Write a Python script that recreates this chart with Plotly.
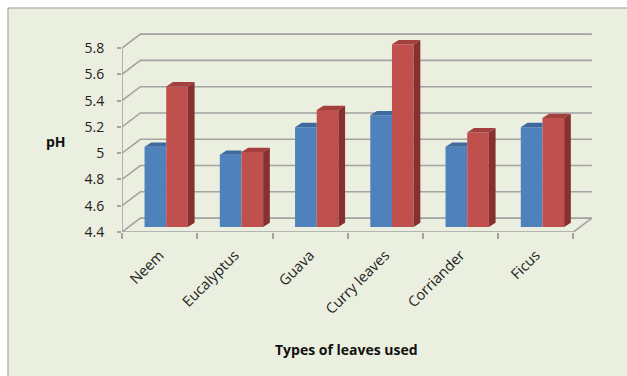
import plotly.graph_objects as go

# ---- data -------------------------------------------------------------
leaves = ["Neem", "Eucalyptus", "Guava", "Curry leaves", "Corriander", "Ficus"]
ph_series_1 = [5.01, 4.95, 5.16, 5.25, 5.01, 5.16]   # blue columns
ph_series_2 = [5.47, 4.97, 5.29, 5.79, 5.12, 5.23]   # red columns
ph_ticks = [4.4, 4.6, 4.8, 5.0, 5.2, 5.4, 5.6, 5.8]
ph_tick_text = ["4.4", "4.6", "4.8", "5", "5.2", "5.4", "5.6", "5.8"]

# ---- pseudo-3D geometry (axis units) ------------------------------------
Y_MIN = 4.4
X_RANGE = [-0.5, 5.746]
Y_RANGE = [4.4, 5.9145]
WALL_DX, WALL_DY = 0.2445, 0.1058      # depth of the back wall
PLANE_DX, PLANE_DY = 0.0877, 0.038     # depth at which the columns stand
BAR_DX, BAR_DY = 0.089, 0.0327         # column thickness in depth
BAR_W = 0.288

GRID = "#A3A3A3"
BLUE, BLUE_TOP = "#4F81BD", "#3F6A9E"
RED, RED_TOP, RED_SIDE = "#C0504D", "#A3403D", "#86312F"
BG = "#EBEFDF"
FONT = "Open Sans"

n = len(leaves)
base = Y_MIN + PLANE_DY

fig = go.Figure()

# front faces of the columns
x_blue = [i + PLANE_DX - BAR_W / 2 for i in range(n)]
x_red = [i + PLANE_DX + BAR_W / 2 for i in range(n)]
fig.add_trace(go.Bar(x=x_blue, y=[v - Y_MIN for v in ph_series_1], base=base,
                     width=BAR_W, marker=dict(color=BLUE, line=dict(width=0)),
                     name="Series 1", xaxis="x2", yaxis="y2"))
fig.add_trace(go.Bar(x=x_red, y=[v - Y_MIN for v in ph_series_2], base=base,
                     width=BAR_W, marker=dict(color=RED, line=dict(width=0)),
                     name="Series 2", xaxis="x2", yaxis="y2"))


def polys(point_lists):
    xs, ys = [], []
    for pts in point_lists:
        for px, py in pts:
            xs.append(px)
            ys.append(py)
        xs.append(pts[0][0])
        ys.append(pts[0][1])
        xs.append(None)
        ys.append(None)
    return xs, ys


# top faces of the blue columns (cut where the taller red column stands in front)
blue_tops = []
for xc, v, w in zip(x_blue, ph_series_1, ph_series_2):
    x0, x1 = xc - BAR_W / 2, xc + BAR_W / 2
    t = v + PLANE_DY
    if w >= v:
        blue_tops.append([(x0, t), (x1, t), (x1, t + BAR_DY), (x0 + BAR_DX, t + BAR_DY)])
    else:
        blue_tops.append([(x0, t), (x1, t), (x1 + BAR_DX, t + BAR_DY), (x0 + BAR_DX, t + BAR_DY)])
bx, by = polys(blue_tops)
fig.add_trace(go.Scatter(x=bx, y=by, mode="lines", fill="toself", fillcolor=BLUE_TOP,
                         line=dict(width=0, color=BLUE_TOP), hoverinfo="skip",
                         xaxis="x2", yaxis="y2"))

# top and side faces of the red columns
red_tops, red_sides = [], []
for xc, v in zip(x_red, ph_series_2):
    x0, x1 = xc - BAR_W / 2, xc + BAR_W / 2
    t = v + PLANE_DY
    red_tops.append([(x0, t), (x1, t), (x1 + BAR_DX, t + BAR_DY), (x0 + BAR_DX, t + BAR_DY)])
    red_sides.append([(x1, base), (x1 + BAR_DX, base + BAR_DY), (x1 + BAR_DX, t + BAR_DY), (x1, t)])
rx, ry = polys(red_tops)
fig.add_trace(go.Scatter(x=rx, y=ry, mode="lines", fill="toself", fillcolor=RED_TOP,
                         line=dict(width=0, color=RED_TOP), hoverinfo="skip",
                         xaxis="x2", yaxis="y2"))
sx, sy = polys(red_sides)
fig.add_trace(go.Scatter(x=sx, y=sy, mode="lines", fill="toself", fillcolor=RED_SIDE,
                         line=dict(width=0, color=RED_SIDE), hoverinfo="skip",
                         xaxis="x2", yaxis="y2"))

# walls, floor and gridlines, drawn underneath the columns
left, right = -0.5, n - 0.5
shapes = [dict(type="rect", xref="paper", yref="paper", x0=-0.2426, x1=1.12,
               y0=-0.82, y1=1.1256, fillcolor=BG, line=dict(color="#9A9A9A", width=1),
               layer="below")]
for v in ph_ticks:
    shapes.append(dict(type="path", xref="x", yref="y", layer="below",
                       path=f"M {left},{v} L {left + WALL_DX},{v + WALL_DY} "
                            f"L {right + WALL_DX},{v + WALL_DY}",
                       line=dict(color=GRID, width=1.6)))
shapes.append(dict(type="path", xref="x", yref="y", layer="below",
                   path=f"M {left},{Y_MIN} L {right},{Y_MIN} "
                        f"L {right + WALL_DX},{Y_MIN + WALL_DY}",
                   line=dict(color=GRID, width=1.6)))
shapes.append(dict(type="line", xref="x", yref="y", layer="below",
                   x0=left, x1=left, y0=Y_MIN, y1=ph_ticks[-1],
                   line=dict(color=GRID, width=1.6)))

tick_font = dict(family=FONT, size=14, color="#222222")
fig.update_layout(
    width=627, height=376,
    margin=dict(l=122, r=35, t=33, b=144),
    paper_bgcolor="white", plot_bgcolor="rgba(0,0,0,0)",
    showlegend=False, barmode="overlay",
    shapes=shapes,
    xaxis=dict(range=X_RANGE, tickvals=[i - 0.5 for i in range(n + 1)],
               ticks="outside", ticklen=6, tickwidth=1.6, tickcolor=GRID,
               showticklabels=False, showgrid=False, zeroline=False, showline=False,
               fixedrange=True),
    yaxis=dict(range=Y_RANGE, tickvals=ph_ticks, ticktext=ph_tick_text,
               ticks="outside", ticklen=4, tickwidth=1.6, tickcolor=GRID,
               tickfont=tick_font, ticklabelstandoff=10,
               showgrid=False, zeroline=False, showline=False, fixedrange=True),
    xaxis2=dict(range=X_RANGE, overlaying="x", anchor="y2",
                tickvals=list(range(n)), ticktext=leaves, tickangle=-45,
                tickfont=dict(family=FONT, size=14.5, color="#222222"),
                ticks="", ticklabelstandoff=11,
                showgrid=False, zeroline=False, showline=False, fixedrange=True),
    yaxis2=dict(range=Y_RANGE, overlaying="y", anchor="x2", showticklabels=False,
                ticks="", showgrid=False, zeroline=False, showline=False,
                fixedrange=True),
    annotations=[
        dict(text="<b>pH</b>", xref="paper", yref="paper", x=-0.1404, y=0.4538,
             xanchor="center", yanchor="middle", showarrow=False,
             font=dict(family=FONT, size=14, color="#111111")),
        dict(text="<b>Types of leaves used</b>", xref="paper", yref="paper",
             x=0.4777, y=-0.588, xanchor="center", yanchor="middle", showarrow=False,
             font=dict(family=FONT, size=14, color="#111111")),
    ],
)

fig.write_html("out.html")
